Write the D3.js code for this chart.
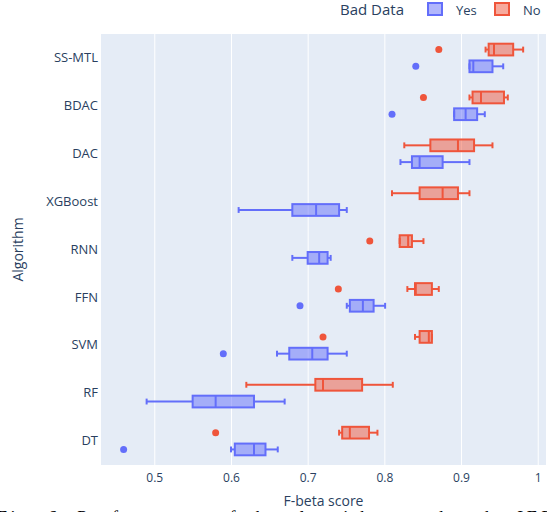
<!DOCTYPE html>
<html>
<head>
<meta charset="utf-8">
<script src="https://cdn.jsdelivr.net/npm/d3@7"></script>
<style>
  body { margin: 0; background: #fff; }
  svg { display: block; }
</style>
</head>
<body>
<div id="chart"></div>
<script>
// Kategorien von oben nach unten
var categories = ["SS-MTL", "BDAC", "DAC", "XGBoost", "RNN", "FFN", "SVM", "RF", "DT"];
var xTicks = [0.5, 0.6, 0.7, 0.8, 0.9, 1];
var xTickLabels = ["0.5", "0.6", "0.7", "0.8", "0.9", "1"];

// Bad Data = Yes (blau)
var yesMin = [0.911, 0.891, 0.821, 0.610, 0.680, 0.751, 0.660, 0.490, 0.600];
var yesQ1  = [0.911, 0.891, 0.836, 0.680, 0.700, 0.755, 0.676, 0.550, 0.605];
var yesMed = [0.916, 0.906, 0.846, 0.711, 0.715, 0.772, 0.706, 0.580, 0.630];
var yesQ3  = [0.941, 0.921, 0.876, 0.741, 0.726, 0.786, 0.726, 0.630, 0.645];
var yesMax = [0.955, 0.931, 0.911, 0.751, 0.730, 0.801, 0.751, 0.670, 0.661];
var yesOut = [0.841, 0.810, null, null, null, 0.690, 0.590, null, 0.460];

// Bad Data = No (rot)
var noMin = [0.932, 0.911, 0.826, 0.810, 0.820, 0.830, 0.840, 0.620, 0.741];
var noQ1  = [0.936, 0.915, 0.860, 0.846, 0.820, 0.840, 0.846, 0.710, 0.745];
var noMed = [0.943, 0.926, 0.896, 0.876, 0.831, 0.841, 0.858, 0.720, 0.755];
var noQ3  = [0.968, 0.956, 0.917, 0.896, 0.836, 0.862, 0.862, 0.771, 0.780];
var noMax = [0.981, 0.961, 0.941, 0.911, 0.851, 0.871, 0.862, 0.811, 0.791];
var noOut = [0.871, 0.851, null, null, 0.781, 0.740, 0.720, null, 0.580];

var W = 547, H = 512;
var plot = {left: 101, right: 546, top: 34, bottom: 465};
var font = "'Open Sans', verdana, arial, sans-serif";
var textColor = "#2a3f5f";

var svg = d3.select("#chart").append("svg")
    .attr("width", W)
    .attr("height", H);

// Skalen
var x = d3.scaleLinear()
    .domain([0.4305, 1.0108])
    .range([plot.left, plot.right]);

var y = d3.scaleBand()
    .domain(categories)
    .range([plot.top, plot.bottom]);

var band = y.bandwidth();
var slot = band * 0.7 / 2;        // boxgap 0.3, zwei Gruppen
var boxH = slot * 0.7;            // boxgroupgap 0.3
var capH = boxH * 0.5;

// Hintergrund
svg.append("rect")
    .attr("x", plot.left)
    .attr("y", plot.top)
    .attr("width", plot.right - plot.left)
    .attr("height", plot.bottom - plot.top)
    .attr("fill", "#e5ecf6");

// Gitterlinien + X-Achse
var xAxis = d3.axisBottom(x)
    .tickValues(xTicks)
    .tickFormat((d, i) => xTickLabels[i])
    .tickSize(-(plot.bottom - plot.top))
    .tickPadding(8);

var gx = svg.append("g")
    .attr("transform", "translate(0," + plot.bottom + ")")
    .call(xAxis);
gx.select(".domain").remove();
gx.selectAll("line").attr("stroke", "#fff").attr("stroke-width", 1);
gx.selectAll("text")
    .style("font-family", font)
    .style("font-size", "12px")
    .attr("fill", textColor);

// Y-Achse
var yAxis = d3.axisLeft(y).tickSize(0).tickPadding(3);
var gy = svg.append("g")
    .attr("transform", "translate(" + plot.left + ",0)")
    .call(yAxis);
gy.select(".domain").remove();
gy.selectAll("text")
    .style("font-family", font)
    .style("font-size", "13px")
    .attr("fill", textColor);

// Boxplots zeichnen
var series = [
    {name: "Yes", color: "#636efa", fill: "rgba(99,110,250,0.5)", offset: slot / 2,
     min: yesMin, q1: yesQ1, med: yesMed, q3: yesQ3, max: yesMax, out: yesOut},
    {name: "No", color: "#ef553b", fill: "rgba(239,85,59,0.5)", offset: -slot / 2,
     min: noMin, q1: noQ1, med: noMed, q3: noQ3, max: noMax, out: noOut}
];

series.forEach(function(s) {
    var g = svg.append("g").attr("class", "series-" + s.name);

    categories.forEach(function(c, i) {
        var cy = y(c) + band / 2 + s.offset;

        // Whisker
        g.append("line")
            .attr("x1", x(s.min[i])).attr("x2", x(s.q1[i]))
            .attr("y1", cy).attr("y2", cy)
            .attr("stroke", s.color).attr("stroke-width", 2);
        g.append("line")
            .attr("x1", x(s.q3[i])).attr("x2", x(s.max[i]))
            .attr("y1", cy).attr("y2", cy)
            .attr("stroke", s.color).attr("stroke-width", 2);
        [s.min[i], s.max[i]].forEach(function(v) {
            g.append("line")
                .attr("x1", x(v)).attr("x2", x(v))
                .attr("y1", cy - capH / 2).attr("y2", cy + capH / 2)
                .attr("stroke", s.color).attr("stroke-width", 2);
        });

        // Box
        g.append("rect")
            .attr("x", x(s.q1[i]))
            .attr("y", cy - boxH / 2)
            .attr("width", x(s.q3[i]) - x(s.q1[i]))
            .attr("height", boxH)
            .attr("fill", s.fill)
            .attr("stroke", s.color)
            .attr("stroke-width", 2);

        // Median
        g.append("line")
            .attr("x1", x(s.med[i])).attr("x2", x(s.med[i]))
            .attr("y1", cy - boxH / 2).attr("y2", cy + boxH / 2)
            .attr("stroke", s.color).attr("stroke-width", 2);

        // Ausreißer
        if (s.out[i] != null) {
            g.append("circle")
                .attr("cx", x(s.out[i]))
                .attr("cy", cy)
                .attr("r", 3.5)
                .attr("fill", s.color);
        }
    });
});

// Achsentitel
svg.append("text")
    .attr("x", (plot.left + plot.right) / 2)
    .attr("y", 506)
    .attr("text-anchor", "middle")
    .style("font-family", font)
    .style("font-size", "14px")
    .attr("fill", textColor)
    .text("F-beta score");

svg.append("text")
    .attr("transform", "translate(23," + ((plot.top + plot.bottom) / 2) + ") rotate(-90)")
    .attr("text-anchor", "middle")
    .style("font-family", font)
    .style("font-size", "14px")
    .attr("fill", textColor)
    .text("Algorithm");

// Legende
var legend = svg.append("g").attr("class", "legend");
legend.append("text")
    .attr("x", 340).attr("y", 15)
    .style("font-family", font)
    .style("font-size", "15px")
    .attr("fill", textColor)
    .text("Bad Data");

var legendX = [428, 495];
series.forEach(function(s, i) {
    legend.append("rect")
        .attr("x", legendX[i]).attr("y", 3)
        .attr("width", 14).attr("height", 12)
        .attr("fill", s.fill)
        .attr("stroke", s.color)
        .attr("stroke-width", 2);
    legend.append("text")
        .attr("x", legendX[i] + 28).attr("y", 15)
        .style("font-family", font)
        .style("font-size", "13px")
        .attr("fill", textColor)
        .text(s.name);
});

// Bildunterschrift (unten abgeschnitten)
svg.append("text")
    .attr("x", -3)
    .attr("y", 524)
    .attr("textLength", 570)
    .attr("lengthAdjust", "spacing")
    .style("font-family", "'Liberation Serif', 'DejaVu Serif', serif")
    .style("font-size", "18px")
    .attr("fill", "#000")
    .text("Fig. 6: Performance of the algorithms under the IEEE");
</script>
</body>
</html>
